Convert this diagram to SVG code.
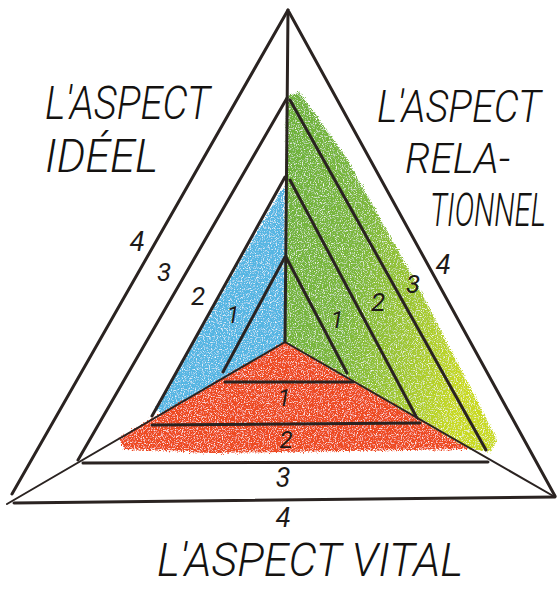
<svg xmlns="http://www.w3.org/2000/svg" width="557" height="589" viewBox="0 0 557 589">
  <defs>
    <style>
      .ln { stroke: #2a2321; stroke-width: 3; stroke-linecap: round; fill: none; }
      .thin { stroke: #2a2321; stroke-width: 2; stroke-linecap: round; fill: none; }
      .lbl { font-family: Roboto, "Open Sans", "Liberation Sans", sans-serif; font-weight: 300; font-style: italic; fill: #141210; }
      .num { font-family: Roboto, "Liberation Sans", sans-serif; font-weight: 400; font-style: italic; fill: #1e1a18; text-anchor: middle; }
    </style>
    <linearGradient id="gGreen" x1="0" y1="0" x2="1" y2="0.35">
      <stop offset="0" stop-color="#6db23a"/>
      <stop offset="0.45" stop-color="#7cb83a"/>
      <stop offset="0.75" stop-color="#a3c92f"/>
      <stop offset="1" stop-color="#c9da22"/>
    </linearGradient>
    <filter id="crayon" x="-5%" y="-5%" width="110%" height="110%">
      <feTurbulence type="fractalNoise" baseFrequency="0.85" numOctaves="2" seed="4" result="noise"/>
      <feDisplacementMap in="SourceGraphic" in2="noise" scale="7" xChannelSelector="R" yChannelSelector="G" result="disp"/>
      <feColorMatrix in="noise" type="matrix" values="0 0 0 0 1  0 0 0 0 1  0 0 0 0 1  0 0 0 -3 1.45" result="speck"/>
      <feComposite in="speck" in2="disp" operator="in" result="speckIn"/>
      <feMerge>
        <feMergeNode in="disp"/>
        <feMergeNode in="speckIn"/>
      </feMerge>
    </filter>
  </defs>

  <rect width="557" height="589" fill="#ffffff"/>

  <!-- Sector: L'aspect idéel (blue) -->
  <g id="sector-ideal">
    <polygon filter="url(#crayon)" fill="#55b6e3" points="284,186 285,342 162,414 156,408 279,194"/>
    <line class="ln" x1="288" y1="10" x2="12" y2="494"/>
    <line class="ln" x1="287" y1="98" x2="78" y2="460"/>
    <line class="ln" x1="285" y1="177" x2="152" y2="416"/>
    <line class="ln" x1="285" y1="257" x2="223" y2="372"/>
    <text class="num" x="137" y="251" font-size="27">4</text>
    <text class="num" x="164" y="281" font-size="26">3</text>
    <text class="num" x="198" y="305" font-size="26">2</text>
    <text class="num" x="233" y="323" font-size="23">1</text>
  </g>

  <!-- Sector: L'aspect relationnel (green) -->
  <g id="sector-relationnel">
    <polygon filter="url(#crayon)" fill="url(#gGreen)" points="287,96 299,92 345,156 420,290 497,440 490,452 471,449 285,342"/>
    <line class="ln" x1="289" y1="12" x2="555" y2="496"/>
    <line class="ln" x1="290" y1="100" x2="486" y2="450"/>
    <line class="ln" x1="290" y1="180" x2="418" y2="420"/>
    <line class="ln" x1="286" y1="257" x2="347" y2="373"/>
    <text class="num" x="443" y="274" font-size="27">4</text>
    <text class="num" x="413" y="293" font-size="26">3</text>
    <text class="num" x="378" y="311" font-size="26">2</text>
    <text class="num" x="337" y="328" font-size="23">1</text>
  </g>

  <!-- Sector: L'aspect vital (red) -->
  <g id="sector-vital">
    <polygon filter="url(#crayon)" fill="#ee4b23" points="285,342 119,438 124,449 210,453 470,449"/>
    <line class="ln" x1="14" y1="503" x2="555" y2="497"/>
    <line class="ln" x1="83" y1="463" x2="488" y2="462"/>
    <line class="ln" x1="152" y1="425" x2="420" y2="423"/>
    <line class="ln" x1="225" y1="382" x2="353" y2="382"/>
    <text class="num" x="284" y="406" font-size="23">1</text>
    <text class="num" x="286" y="448" font-size="24">2</text>
    <text class="num" x="283" y="487" font-size="27">3</text>
    <text class="num" x="283" y="527" font-size="27">4</text>
  </g>

  <!-- Connectors: axes from centre to the three vertices -->
  <g id="connectors">
    <line class="ln" x1="288" y1="10" x2="285" y2="342"/>
    <line class="thin" x1="285" y1="342" x2="7" y2="504"/>
    <line class="thin" x1="285" y1="342" x2="555" y2="497"/>
  </g>

  <!-- Labels -->
  <g id="label-ideal">
    <text class="lbl" x="45" y="119" font-size="46" textLength="165" lengthAdjust="spacingAndGlyphs">L'ASPECT</text>
    <text class="lbl" x="45" y="172" font-size="46" textLength="113" lengthAdjust="spacingAndGlyphs">IDÉEL</text>
  </g>
  <g id="label-relationnel">
    <text class="lbl" transform="matrix(0.85 0 0 1 377 122)" font-size="44" textLength="193" lengthAdjust="spacingAndGlyphs">L'ASPECT</text>
    <text class="lbl" x="405" y="173" font-size="43" textLength="105" lengthAdjust="spacingAndGlyphs">RELA-</text>
    <text class="lbl" transform="matrix(0.63 0 0 1 430 226)" font-size="46" textLength="184" lengthAdjust="spacingAndGlyphs">TIONNEL</text>
  </g>
  <g id="label-vital">
    <text class="lbl" x="157" y="576" font-size="46" textLength="306" lengthAdjust="spacingAndGlyphs">L'ASPECT VITAL</text>
  </g>
</svg>
